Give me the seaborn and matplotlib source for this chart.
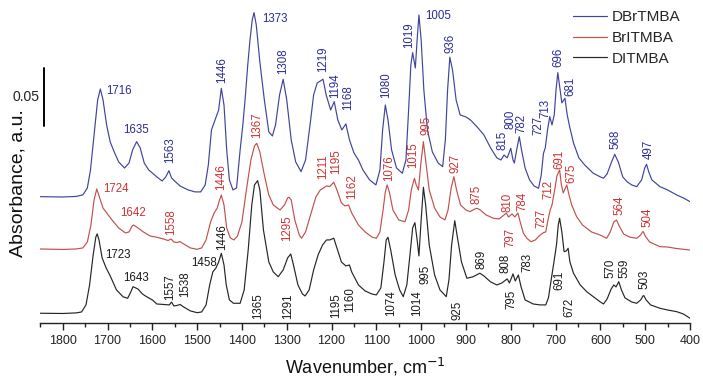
import matplotlib
matplotlib.use("Agg")
import matplotlib.pyplot as plt
from matplotlib.ticker import MultipleLocator
import numpy as np
import pandas as pd
import seaborn as sns

# ---- spectra: wavenumber (cm-1) and absorbance above each trace's own baseline ----
wn_dbr = [1850, 1800, 1770, 1755, 1745, 1738, 1730, 1722, 1716, 1710, 1702, 1694, 1685, 1675,
          1662, 1652, 1644, 1635, 1627, 1618, 1608, 1600, 1590, 1578, 1570, 1563, 1557, 1548,
          1538, 1520, 1505, 1492, 1482, 1475, 1468, 1460, 1452, 1446, 1440, 1434, 1428, 1420,
          1412, 1404, 1398, 1393, 1387, 1382, 1377, 1373, 1368, 1360, 1350, 1340, 1332, 1325,
          1316, 1308, 1300, 1290, 1280, 1268, 1258, 1248, 1240, 1232, 1219, 1212, 1202, 1194,
          1186, 1177, 1168, 1160, 1150, 1140, 1130, 1115, 1101, 1092, 1086, 1080, 1074, 1066,
          1055, 1042, 1034, 1028, 1023, 1019, 1013, 1009, 1005, 1000, 994, 986, 975, 962, 952,
          946, 941, 936, 930, 922, 913, 900, 890, 875, 860, 845, 831, 822, 815, 808, 800, 795,
          792, 786, 781, 776, 768, 758, 748, 738, 732, 727, 723, 718, 713, 708, 703, 699, 695,
          690, 686, 679, 674, 668, 660, 648, 635, 616, 600, 593, 585, 576, 568, 560, 550, 540,
          530, 519, 508, 501, 497, 492, 485, 467, 450, 430, 415, 400]
abs_dbr = [0.0, -0.0003, 0.0002, 0.0015, 0.0075, 0.0230, 0.0532, 0.0834, 0.0928, 0.0834, 0.0618,
           0.0472, 0.0385, 0.0299, 0.0247, 0.0290, 0.0403, 0.0474, 0.0420, 0.0290, 0.0230, 0.0204,
           0.0170, 0.0135, 0.0170, 0.0224, 0.0161, 0.0127, 0.0092, 0.0058, 0.0041, 0.0041, 0.0101,
           0.0273, 0.0575, 0.0661, 0.0747, 0.0934, 0.0790, 0.0403, 0.0144, 0.0058, 0.0075, 0.0403,
           0.0618, 0.0834, 0.1135, 0.1351, 0.1523, 0.1586, 0.1480, 0.1161, 0.0834, 0.0558, 0.0523,
           0.0618, 0.0877, 0.1012, 0.0834, 0.0489, 0.0299, 0.0216, 0.0316, 0.0618, 0.0877, 0.0980,
           0.1012, 0.0877, 0.0747, 0.0819, 0.0661, 0.0575, 0.0627, 0.0489, 0.0377, 0.0316, 0.0230,
           0.0144, 0.0101, 0.0230, 0.0575, 0.0790, 0.0661, 0.0403, 0.0247, 0.0202, 0.0316, 0.0747,
           0.1135, 0.1241, 0.1109, 0.1351, 0.1566, 0.1351, 0.0920, 0.0575, 0.0385, 0.0290, 0.0259,
           0.0489, 0.0920, 0.1202, 0.1092, 0.0834, 0.0704, 0.0687, 0.0661, 0.0601, 0.0532, 0.0420,
           0.0334, 0.0316, 0.0359, 0.0334, 0.0417, 0.0316, 0.0290, 0.0420, 0.0517, 0.0403, 0.0247,
           0.0144, 0.0092, 0.0072, 0.0187, 0.0374, 0.0420, 0.0575, 0.0690, 0.0618, 0.0704, 0.0920,
           0.1069, 0.0920, 0.0808, 0.0848, 0.0704, 0.0592, 0.0463, 0.0334, 0.0273, 0.0202, 0.0170,
           0.0159, 0.0196, 0.0290, 0.0365, 0.0299, 0.0170, 0.0127, 0.0101, 0.0086, 0.0144, 0.0247,
           0.0279, 0.0213, 0.0144, 0.0086, 0.0058, 0.0015, -0.0011, -0.0043]

wn_bri = [1850, 1800, 1770, 1755, 1745, 1737, 1730, 1724, 1718, 1710, 1700, 1690, 1675, 1660,
          1652, 1645, 1642, 1632, 1620, 1605, 1590, 1575, 1565, 1558, 1552, 1545, 1538, 1530,
          1515, 1500, 1490, 1480, 1470, 1462, 1455, 1450, 1446, 1440, 1434, 1426, 1418, 1410,
          1400, 1390, 1380, 1372, 1367, 1360, 1350, 1340, 1330, 1315, 1305, 1298, 1295, 1290,
          1282, 1272, 1267, 1258, 1245, 1235, 1225, 1218, 1211, 1204, 1195, 1188, 1178, 1170,
          1162, 1155, 1140, 1125, 1110, 1100, 1092, 1085, 1080, 1076, 1071, 1063, 1050, 1036,
          1028, 1022, 1015, 1011, 1006, 1001, 995, 990, 982, 970, 958, 947, 940, 933, 927, 921,
          912, 900, 891, 880, 875, 868, 855, 839, 826, 815, 810, 805, 797, 791, 784, 779, 772,
          764, 755, 745, 737, 727, 722, 716, 712, 708, 702, 697, 691, 687, 683, 679, 675, 670,
          664, 653, 640, 620, 601, 586, 578, 570, 564, 558, 548, 535, 519, 510, 506, 504, 500,
          490, 467, 450, 430, 400]
abs_bri = [0.0, -0.0004, 0.0, 0.0009, 0.0060, 0.0207, 0.0422, 0.0517, 0.0448, 0.0353, 0.0302,
           0.0250, 0.0181, 0.0138, 0.0147, 0.0198, 0.0207, 0.0181, 0.0147, 0.0112, 0.0101, 0.0086,
           0.0073, 0.0086, 0.0060, 0.0056, 0.0063, 0.0043, 0.0009, -0.0003, 0.0009, 0.0078, 0.0233,
           0.0310, 0.0353, 0.0422, 0.0465, 0.0379, 0.0181, 0.0095, 0.0078, 0.0112, 0.0233, 0.0509,
           0.0767, 0.0888, 0.0911, 0.0836, 0.0638, 0.0465, 0.0379, 0.0336, 0.0379, 0.0440, 0.0446,
           0.0422, 0.0250, 0.0121, 0.0092, 0.0147, 0.0319, 0.0448, 0.0509, 0.0526, 0.0543, 0.0539,
           0.0575, 0.0509, 0.0397, 0.0371, 0.0379, 0.0310, 0.0207, 0.0147, 0.0103, 0.0092, 0.0147,
           0.0336, 0.0491, 0.0552, 0.0491, 0.0336, 0.0250, 0.0235, 0.0336, 0.0509, 0.0609, 0.0552,
           0.0509, 0.0724, 0.0925, 0.0767, 0.0509, 0.0353, 0.0276, 0.0250, 0.0336, 0.0526, 0.0623,
           0.0509, 0.0379, 0.0336, 0.0322, 0.0345, 0.0351, 0.0336, 0.0293, 0.0265, 0.0259, 0.0293,
           0.0310, 0.0276, 0.0302, 0.0276, 0.0310, 0.0233, 0.0138, 0.0092, 0.0063, 0.0078, 0.0112,
           0.0141, 0.0147, 0.0267, 0.0336, 0.0379, 0.0509, 0.0629, 0.0681, 0.0552, 0.0483, 0.0517,
           0.0552, 0.0465, 0.0379, 0.0278, 0.0207, 0.0147, 0.0121, 0.0092, 0.0147, 0.0233, 0.0250,
           0.0198, 0.0129, 0.0103, 0.0092, 0.0121, 0.0147, 0.0149, 0.0112, 0.0060, 0.0020, 0.0017,
           0.0004, -0.0009]

wn_di = [1850, 1800, 1770, 1758, 1748, 1740, 1732, 1726, 1723, 1719, 1712, 1703, 1694, 1680,
         1665, 1655, 1648, 1643, 1632, 1622, 1613, 1600, 1590, 1575, 1562, 1557, 1552, 1545,
         1538, 1530, 1515, 1500, 1490, 1480, 1472, 1465, 1458, 1452, 1446, 1440, 1435, 1428,
         1419, 1404, 1395, 1386, 1378, 1372, 1365, 1360, 1352, 1340, 1330, 1319, 1308, 1298,
         1291, 1285, 1275, 1265, 1259, 1250, 1240, 1230, 1220, 1211, 1204, 1195, 1188, 1178,
         1168, 1160, 1155, 1140, 1125, 1110, 1100, 1090, 1083, 1078, 1074, 1068, 1058, 1048,
         1040, 1032, 1025, 1019, 1014, 1009, 1005, 1000, 995, 990, 982, 970, 958, 944, 938, 932,
         925, 920, 910, 898, 885, 869, 860, 845, 831, 820, 808, 803, 795, 790, 783, 777, 768,
         750, 735, 722, 716, 708, 703, 698, 694, 691, 686, 681, 676, 672, 668, 660, 645, 630,
         616, 600, 593, 585, 576, 570, 565, 559, 553, 545, 530, 519, 510, 505, 503, 498, 488,
         467, 450, 430, 415, 400]
abs_di = [0.0, -0.0002, 0.0003, 0.0011, 0.0072, 0.0244, 0.0503, 0.0658, 0.0684, 0.0632, 0.0477,
          0.0390, 0.0322, 0.0201, 0.0141, 0.0129, 0.0184, 0.0229, 0.0209, 0.0166, 0.0143, 0.0115,
          0.0080, 0.0076, 0.0072, 0.0097, 0.0063, 0.0067, 0.0076, 0.0054, 0.0020, 0.0005, 0.0011,
          0.0072, 0.0244, 0.0356, 0.0390, 0.0442, 0.0517, 0.0416, 0.0244, 0.0115, 0.0086, 0.0086,
          0.0201, 0.0546, 0.0934, 0.1106, 0.1143, 0.1063, 0.0718, 0.0442, 0.0356, 0.0315, 0.0373,
          0.0477, 0.0511, 0.0416, 0.0244, 0.0166, 0.0149, 0.0201, 0.0373, 0.0503, 0.0589, 0.0632,
          0.0632, 0.0647, 0.0563, 0.0442, 0.0408, 0.0416, 0.0356, 0.0244, 0.0192, 0.0166, 0.0158,
          0.0218, 0.0442, 0.0632, 0.0655, 0.0546, 0.0330, 0.0201, 0.0143, 0.0244, 0.0503, 0.0735,
          0.0781, 0.0632, 0.0494, 0.0804, 0.1086, 0.0934, 0.0589, 0.0330, 0.0201, 0.0143, 0.0287,
          0.0589, 0.0798, 0.0675, 0.0442, 0.0302, 0.0313, 0.0345, 0.0322, 0.0270, 0.0244, 0.0261,
          0.0296, 0.0261, 0.0339, 0.0278, 0.0330, 0.0227, 0.0115, 0.0080, 0.0072, 0.0072, 0.0132,
          0.0330, 0.0459, 0.0589, 0.0761, 0.0819, 0.0701, 0.0531, 0.0537, 0.0560, 0.0442, 0.0345,
          0.0244, 0.0184, 0.0143, 0.0097, 0.0080, 0.0123, 0.0209, 0.0244, 0.0227, 0.0272, 0.0201,
          0.0132, 0.0097, 0.0086, 0.0115, 0.0149, 0.0152, 0.0115, 0.0072, 0.0043, 0.0028, 0.0014,
          -0.0006, -0.0043]

samples = ["DBrTMBA", "BrITMBA", "DITMBA"]
offsets = [0.1089, 0.0638, 0.0084]          # vertical stacking of the traces
line_colors = ["#40449c", "#c25050", "#262626"]
text_colors = ["#2a2d96", "#cc3333", "#1a1a1a"]

# ---- peak annotations: (label, wavenumber, absorbance, rotated, align) ----
labels_dbr = [("1716", 1703, 0.2003, False, "left"), ("1635", 1636, 0.1664, False, "center"),
              ("1563", 1560, 0.1491, True, "center"), ("1446", 1445, 0.2181, True, "center"),
              ("1373", 1327, 0.2618, False, "center"), ("1308", 1308, 0.2259, True, "center"),
              ("1219", 1218, 0.2276, True, "center"), ("1194", 1192, 0.2043, True, "center"),
              ("1168", 1162, 0.1940, True, "center"), ("1080", 1079, 0.2052, True, "center"),
              ("1019", 1027, 0.2483, True, "center"), ("1005", 963, 0.2647, False, "center"),
              ("936", 935, 0.2414, True, "center"), ("815", 819, 0.1578, True, "center"),
              ("800", 801, 0.1759, True, "center"), ("782", 776, 0.1724, True, "center"),
              ("727", 738, 0.1700, True, "center"), ("713", 723, 0.1853, True, "center"),
              ("696", 694, 0.2293, True, "center"), ("681", 668, 0.2043, True, "center"),
              ("568", 567, 0.1586, True, "center"), ("497", 493, 0.1500, True, "center")]
labels_bri = [("1724", 1710, 0.1155, False, "left"), ("1642", 1643, 0.0946, False, "center"),
              ("1558", 1559, 0.0871, True, "center"), ("1446", 1447, 0.1259, True, "center"),
              ("1367", 1367, 0.1707, True, "center"), ("1295", 1299, 0.0819, True, "center"),
              ("1211", 1218, 0.1345, True, "center"), ("1195", 1190, 0.1388, True, "center"),
              ("1162", 1155, 0.1172, True, "center"), ("1076", 1071, 0.1336, True, "center"),
              ("1015", 1017, 0.1448, True, "center"), ("995", 988, 0.1707, True, "center"),
              ("927", 924, 0.1379, True, "center"), ("875", 876, 0.1112, True, "center"),
              ("810", 807, 0.1036, True, "center"), ("784", 775, 0.1050, True, "center"),
              ("797", 800, 0.0740, True, "center"), ("727", 732, 0.0900, True, "center"),
              ("712", 715, 0.1147, True, "center"), ("691", 691, 0.1410, True, "center"),
              ("675", 665, 0.1290, True, "center"), ("564", 558, 0.1017, True, "center"),
              ("504", 496, 0.0914, True, "center")]
labels_di = [("1723", 1706, 0.0586, False, "left"), ("1643", 1636, 0.0385, False, "center"),
             ("1557", 1560, 0.0310, True, "center"), ("1538", 1527, 0.0336, True, "center"),
             ("1458", 1456, 0.0515, False, "right"), ("1446", 1445, 0.0744, True, "center"),
             ("1365", 1363, 0.0147, True, "center"), ("1291", 1296, 0.0147, True, "center"),
             ("1195", 1190, 0.0147, True, "center"), ("1160", 1159, 0.0198, True, "center"),
             ("1074", 1067, 0.0172, True, "center"), ("1014", 1008, 0.0172, True, "center"),
             ("995", 991, 0.0422, True, "center"), ("925", 918, 0.0112, True, "center"),
             ("869", 865, 0.0552, True, "center"), ("808", 812, 0.0510, True, "center"),
             ("795", 798, 0.0200, True, "center"), ("783", 762, 0.0520, True, "center"),
             ("691", 692, 0.0365, True, "center"), ("672", 670, 0.0135, True, "center"),
             ("570", 577, 0.0474, True, "center"), ("559", 546, 0.0474, True, "center"),
             ("503", 502, 0.0379, True, "center")]

# ---- assemble long-form table ----
frames = []
for name, wn, ab, off in zip(samples, [wn_dbr, wn_bri, wn_di], [abs_dbr, abs_bri, abs_di], offsets):
    frames.append(pd.DataFrame({"wavenumber": wn,
                                "absorbance": np.asarray(ab) + off,
                                "sample": name}))
df = pd.concat(frames, ignore_index=True)

sns.set_style("white")
plt.rcParams["font.family"] = ["Liberation Sans", "DejaVu Sans"]

fig = plt.figure(figsize=(7.03, 3.77), dpi=100)
ax = fig.add_axes([40.3 / 703, 54 / 377, 649.7 / 703, 323 / 377])

sns.lineplot(data=df, x="wavenumber", y="absorbance", hue="sample", hue_order=samples,
             palette=line_colors, estimator=None, sort=False, linewidth=0.85, ax=ax)

ax.set_xlim(1850, 400)
ax.set_ylim(0, 0.2784)

for lab_list, col in zip([labels_dbr, labels_bri, labels_di], text_colors):
    for txt, x, y, rot, ha in lab_list:
        ax.text(x, y, txt, rotation=90 if rot else 0, ha=ha, va="center",
                fontsize=8.3, color=col)

# scale bar for 0.05 absorbance units
ax.plot([1842, 1842], [0.170, 0.220], color="black", lw=1.4, clip_on=False)
ax.text(1851, 0.1948, "0.05", ha="right", va="center", fontsize=10, color="#222222",
        clip_on=False)

# axes styling
for side in ["left", "top", "right"]:
    ax.spines[side].set_visible(False)
ax.spines["bottom"].set_color("#222222")
ax.spines["bottom"].set_linewidth(1.0)
ax.set_yticks([])
ax.xaxis.set_major_locator(MultipleLocator(100))
ax.xaxis.set_minor_locator(MultipleLocator(50))
ax.tick_params(axis="x", which="major", direction="out", length=5, width=1,
               labelsize=9, colors="#222222", pad=4, bottom=True)
ax.tick_params(axis="x", which="minor", direction="out", length=3, width=1,
               colors="#222222", bottom=True)

ax.set_xlabel("Wavenumber, cm$^{-1}$", fontsize=13, color="#111111", labelpad=6)
ax.set_ylabel("Absorbance, a.u.", fontsize=14, color="#111111")
ax.yaxis.set_label_coords(-0.022, 0.433)

handles, labels = ax.get_legend_handles_labels()
ax.legend(handles, labels, loc="upper left", bbox_to_anchor=(573 / 703, 1 - 10 / 377),
          bbox_transform=fig.transFigure, frameon=False, fontsize=11,
          handlelength=2.2, handletextpad=0.35, labelspacing=0.45,
          borderpad=0, borderaxespad=0)

fig.savefig("out.png", dpi=100)
